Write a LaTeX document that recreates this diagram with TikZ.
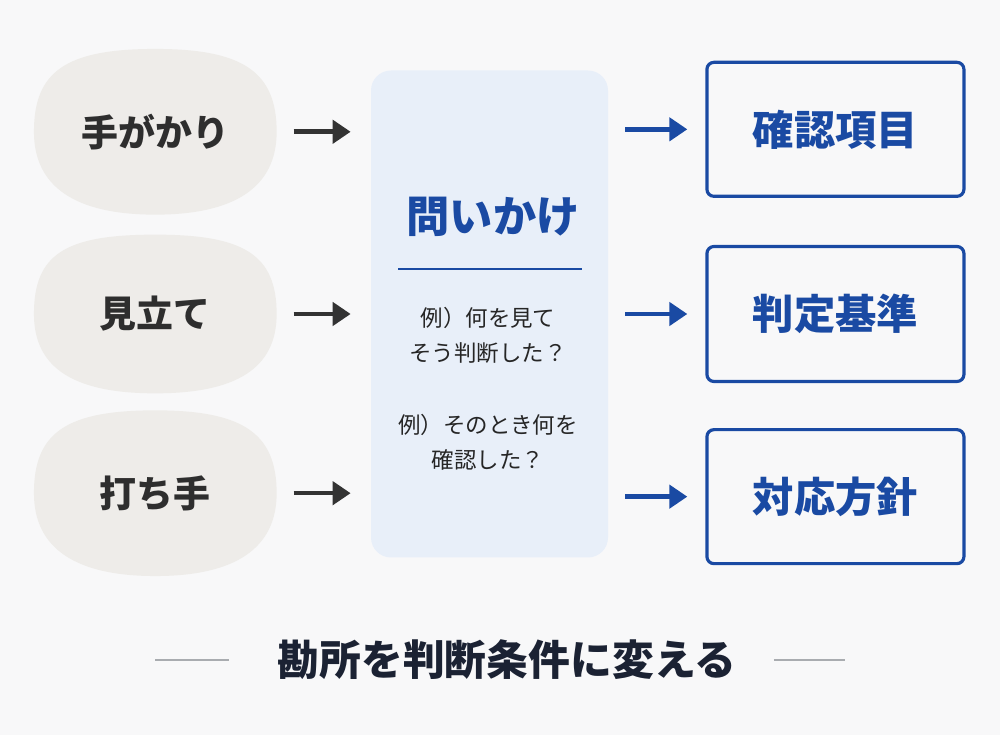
\documentclass[tikz,border=0pt]{standalone}
\usepackage{fontspec}
\setmainfont{Noto Sans CJK JP}
\usetikzlibrary{arrows.meta, positioning, calc, backgrounds}
\definecolor{pagebg}{HTML}{F8F8F9}
\definecolor{blobfill}{HTML}{EEECE9}
\definecolor{blobtext}{HTML}{2E2E2E}
\definecolor{askfill}{HTML}{E8EFF9}
\definecolor{askblue}{HTML}{1A4AA3}
\definecolor{bodytext}{HTML}{262626}
\definecolor{darkline}{HTML}{333333}
\definecolor{mottotext}{HTML}{1B2233}
\definecolor{rulegray}{HTML}{A9ACB0}
\tikzset{
  blob/.style={rectangle, draw=none, minimum width=4.84cm, minimum height=3.3cm,
               text=blobtext, font=\fontsize{21}{25}\selectfont\bfseries},
  blobfillpath/.style={fill=blobfill, draw=none},
  panel/.style={rectangle, rounded corners=0.4cm, fill=askfill, draw=none,
                minimum width=4.74cm, minimum height=9.74cm},
  target/.style={rectangle, rounded corners=0.14cm, draw=askblue, line width=1.8pt,
                 minimum width=5.14cm, minimum height=2.68cm, text=askblue,
                 font=\fontsize{23.5}{28}\selectfont\bfseries},
  asktitle/.style={text=askblue, font=\fontsize{24.6}{30}\selectfont\bfseries},
  example/.style={text=bodytext, align=center, font=\fontsize{12.8}{19.9}\selectfont},
  motto/.style={text=mottotext, inner sep=0pt, font=\fontsize{23.8}{28}\selectfont\bfseries},
  divider/.style={draw=askblue, line width=0.9pt},
  sideline/.style={draw=rulegray, line width=1.1pt},
  cue/.style={-{Triangle[length=3.6mm, width=4.6mm]}, line width=2.6pt, draw=darkline},
  yield/.style={-{Triangle[length=3.6mm, width=4.6mm]}, line width=2.6pt, draw=askblue},
}
\def\leftgap{1.88cm}
\def\rightgap{1.94cm}

\begin{document}
\begin{tikzpicture}

% Page
\begin{scope}[on background layer]
  \fill[pagebg] (0,0) rectangle (20,14.7);
\end{scope}

% Middle: questions
\node[panel] (ask) at (9.79,8.42) {};
\node[asktitle] (asktitle) at ($(ask)+(0.07,1.94)$) {問いかけ};
\coordinate (ruleL) at ($(ask)+(-1.83,0.9)$);
\coordinate (ruleR) at ($(ask)+(1.85,0.9)$);
\node[example] (ex1) at ($(ask)+(-0.03,-0.43)$) {例）何を見て\\そう判断した？};
\node[example] (ex2) at ($(ask)+(-0.03,-2.57)$) {例）そのとき何を\\確認した？};

% Left: tacit knowledge
\node[blob, minimum height=3.16cm, left=\leftgap of ask] (hint) {見立て};
\node[blob, above=0.4cm of hint] (clue) {手がかり};
\node[blob, below=0.34cm of hint] (move) {打ち手};

% Blob outlines, squircle-ish, a little fuller on top
\begin{scope}[on background layer]
  \foreach \n in {clue, hint, move} {
    \fill[blobfillpath] (\n.east)
      .. controls +(0,1.2) and +(1.75,0) .. (\n.north)
      .. controls +(-1.8,0) and +(0,1.2) .. (\n.west)
      .. controls +(0,-1.1) and +(-1.6,0) .. (\n.south)
      .. controls +(1.6,0) and +(0,-1.1) .. (\n.east) -- cycle;
  }
\end{scope}

% Right: explicit items
\node[target, minimum height=2.7cm, right=\rightgap of ask] (crit) {判定基準};
\node[target, above=0.94cm of crit] (check) {確認項目};
\node[target, below=0.9cm of crit] (policy) {対応方針};

% Bottom message
\node[motto] (motto) at (10.14,1.5) {勘所を判断条件に変える};
\coordinate[left=0.96cm of motto.west] (mL2);
\coordinate[left=1.48cm of mL2] (mL1);
\coordinate[right=0.74cm of motto.east] (mR1);
\coordinate[right=1.42cm of mR1] (mR2);

% Flow
\draw[divider] (ruleL) -- (ruleR);
\foreach \n in {clue, hint, move} {
  \draw[cue, shorten <=0.34cm, shorten >=0.4cm] (\n.east) -- (\n.east -| ask.west);
}
\foreach \n in {check, crit, policy} {
  \draw[yield, shorten <=0.34cm, shorten >=0.36cm] (ask.east |- \n.west) -- (\n.west);
}
\draw[sideline] (mL1) -- (mL2);
\draw[sideline] (mR1) -- (mR2);

\end{tikzpicture}
\end{document}
